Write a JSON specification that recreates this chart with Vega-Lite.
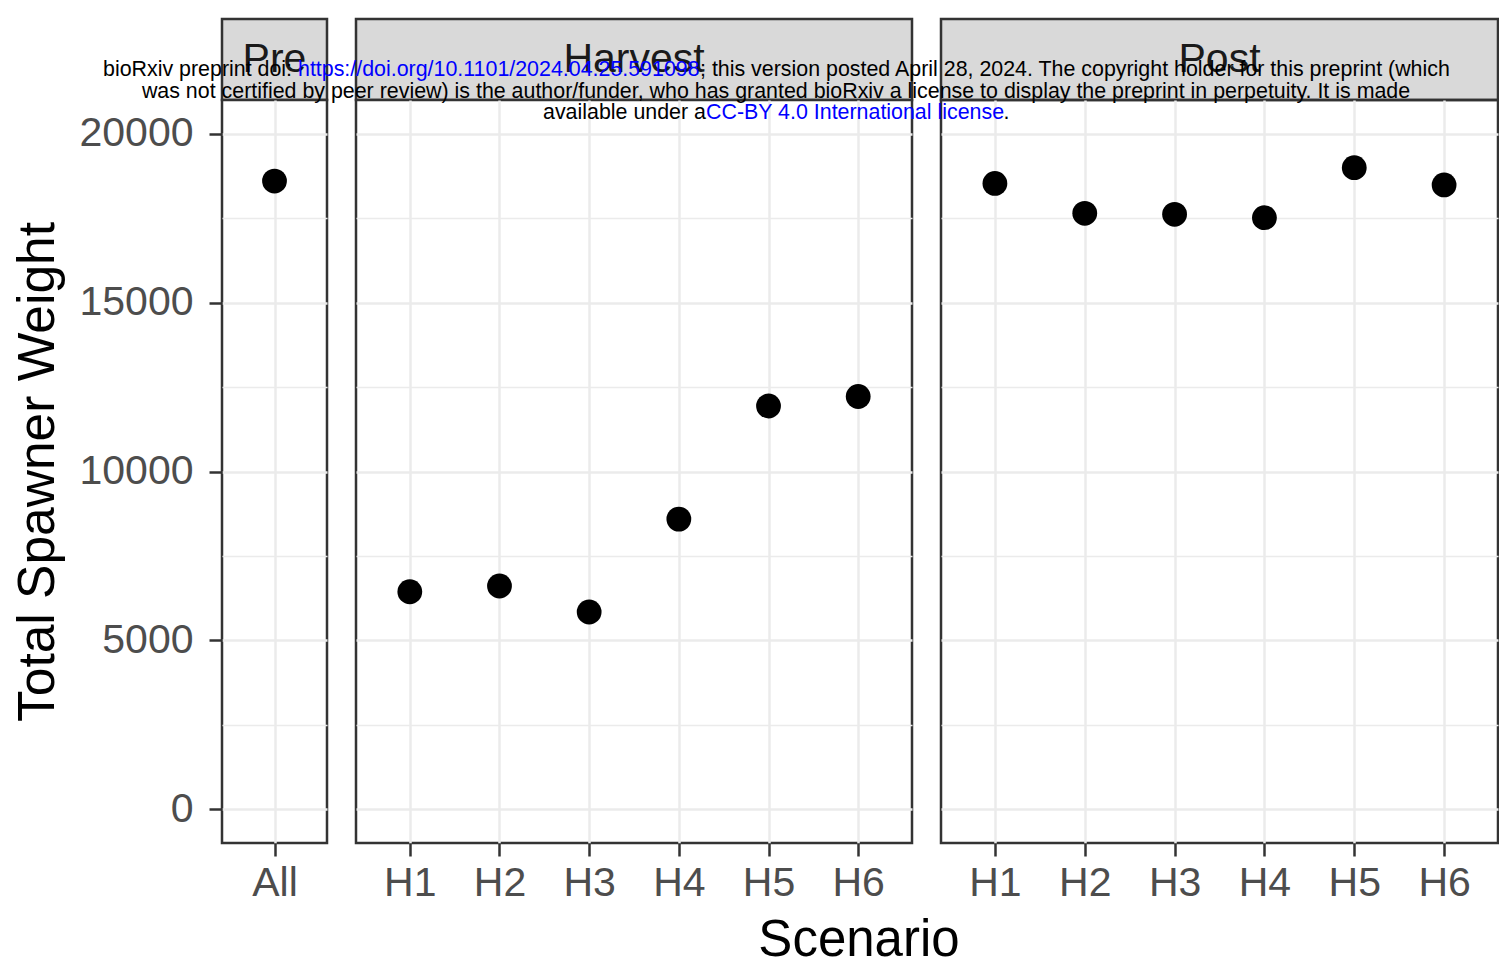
{
  "$schema": "https://vega.github.io/schema/vega-lite/v6.json",
  "background": "white",
  "padding": {"left": 11, "top": 17, "right": 1, "bottom": 5},
  "datasets": {
    "points": [
      {"panel": "Pre", "scenario": "All", "weight": 18600},
      {"panel": "Harvest", "scenario": "H1", "weight": 6440},
      {"panel": "Harvest", "scenario": "H2", "weight": 6610},
      {"panel": "Harvest", "scenario": "H3", "weight": 5840},
      {"panel": "Harvest", "scenario": "H4", "weight": 8590},
      {"panel": "Harvest", "scenario": "H5", "weight": 11940},
      {"panel": "Harvest", "scenario": "H6", "weight": 12220},
      {"panel": "Post", "scenario": "H1", "weight": 18530},
      {"panel": "Post", "scenario": "H2", "weight": 17645},
      {"panel": "Post", "scenario": "H3", "weight": 17615},
      {"panel": "Post", "scenario": "H4", "weight": 17515},
      {"panel": "Post", "scenario": "H5", "weight": 18995},
      {"panel": "Post", "scenario": "H6", "weight": 18485}
    ],
    "panels": [
      {"panel": "Pre"},
      {"panel": "Harvest"},
      {"panel": "Post"}
    ]
  },
  "title": {
    "text": "Scenario",
    "orient": "bottom",
    "anchor": "middle",
    "frame": "group",
    "dx": 637,
    "fontSize": 51,
    "fontWeight": "normal",
    "color": "black",
    "offset": 12
  },
  "columns": 3,
  "concat": [
    {
      "width": 105,
      "height": 81,
      "view": {"fill": "#d9d9d9", "stroke": "#333333", "strokeWidth": 2.5},
      "data": {"name": "panels"},
      "transform": [{"filter": "datum.panel === 'Pre'"}],
      "mark": {"type": "text", "fontSize": 41, "color": "#1a1a1a", "baseline": "middle", "align": "center"},
      "encoding": {"text": {"field": "panel", "type": "nominal"}}
    },
    {
      "width": 556,
      "height": 81,
      "view": {"fill": "#d9d9d9", "stroke": "#333333", "strokeWidth": 2.5},
      "data": {"name": "panels"},
      "transform": [{"filter": "datum.panel === 'Harvest'"}],
      "mark": {"type": "text", "fontSize": 41, "color": "#1a1a1a", "baseline": "middle", "align": "center"},
      "encoding": {"text": {"field": "panel", "type": "nominal"}}
    },
    {
      "width": 557,
      "height": 81,
      "view": {"fill": "#d9d9d9", "stroke": "#333333", "strokeWidth": 2.5},
      "data": {"name": "panels"},
      "transform": [{"filter": "datum.panel === 'Post'"}],
      "mark": {"type": "text", "fontSize": 41, "color": "#1a1a1a", "baseline": "middle", "align": "center"},
      "encoding": {"text": {"field": "panel", "type": "nominal"}}
    },
    {
      "width": 105,
      "height": 743,
      "data": {"name": "points"},
      "transform": [{"filter": "datum.panel === 'Pre'"}],
      "mark": {"type": "circle", "size": 615, "color": "black", "opacity": 1},
      "encoding": {
        "x": {
          "field": "scenario", "type": "nominal", "sort": null,
          "scale": {"type": "point", "padding": 0.6},
          "axis": {"title": null}
        },
        "y": {
          "field": "weight", "type": "quantitative",
          "scale": {"domain": [-1000, 21000], "nice": false, "zero": false},
          "axis": {
            "title": "Total Spawner Weight",
            "titleFontSize": 51.5,
            "titleFontWeight": "normal",
            "titleColor": "black",
            "titlePadding": 14,
            "values": [0, 2500, 5000, 7500, 10000, 12500, 15000, 17500, 20000],
            "format": "d",
            "labelExpr": "datum.value % 5000 === 0 ? datum.label : ''",
            "labelFontSize": 41,
            "labelColor": "#4d4d4d",
            "labelPadding": 16,
            "ticks": true,
            "tickSize": 13,
            "tickWidth": 2.5,
            "tickColor": "#333333",
            "tickOpacity": {"condition": {"test": "datum.value % 5000 !== 0", "value": 0}, "value": 1},
            "gridWidth": {"condition": {"test": "datum.value % 5000 === 0", "value": 2.5}, "value": 1.5}
          }
        }
      }
    },
    {
      "width": 556,
      "height": 743,
      "data": {"name": "points"},
      "transform": [{"filter": "datum.panel === 'Harvest'"}],
      "mark": {"type": "circle", "size": 615, "color": "black", "opacity": 1},
      "encoding": {
        "x": {
          "field": "scenario", "type": "nominal", "sort": null,
          "scale": {"type": "point", "padding": 0.6},
          "axis": {"title": null}
        },
        "y": {
          "field": "weight", "type": "quantitative",
          "scale": {"domain": [-1000, 21000], "nice": false, "zero": false},
          "axis": {
            "title": null,
            "labels": false,
            "ticks": false,
            "values": [0, 2500, 5000, 7500, 10000, 12500, 15000, 17500, 20000],
            "gridWidth": {"condition": {"test": "datum.value % 5000 === 0", "value": 2.5}, "value": 1.5}
          }
        }
      }
    },
    {
      "width": 557,
      "height": 743,
      "layer": [
        {
          "data": {"name": "points"},
          "transform": [{"filter": "datum.panel === 'Post'"}],
          "mark": {"type": "circle", "size": 615, "color": "black", "opacity": 1},
          "encoding": {
            "x": {
              "field": "scenario", "type": "nominal", "sort": null,
              "scale": {"type": "point", "padding": 0.6},
              "axis": {"title": null}
            },
            "y": {
              "field": "weight", "type": "quantitative",
              "scale": {"domain": [-1000, 21000], "nice": false, "zero": false},
              "axis": {
                "title": null,
                "labels": false,
                "ticks": false,
                "values": [0, 2500, 5000, 7500, 10000, 12500, 15000, 17500, 20000],
                "gridWidth": {"condition": {"test": "datum.value % 5000 === 0", "value": 2.5}, "value": 1.5}
              }
            }
          }
        },
        {
          "data": {"values": [{}]},
          "mark": {"type": "text", "text": "bioRxiv preprint doi: ", "x": -838, "y": -24, "align": "left", "baseline": "alphabetic", "fontSize": 21.4, "color": "black"}
        },
        {
          "data": {"values": [{}]},
          "mark": {"type": "text", "text": "https://doi.org/10.1101/2024.04.25.591098", "x": -643, "y": -24, "align": "left", "baseline": "alphabetic", "fontSize": 21.4, "color": "#0000ff"}
        },
        {
          "data": {"values": [{}]},
          "mark": {"type": "text", "text": "; this version posted April 28, 2024. The copyright holder for this preprint (which", "x": -241, "y": -24, "align": "left", "baseline": "alphabetic", "fontSize": 21.4, "color": "black"}
        },
        {
          "data": {"values": [{}]},
          "mark": {"type": "text", "text": "was not certified by peer review) is the author/funder, who has granted bioRxiv a license to display the preprint in perpetuity. It is made", "x": -165, "y": -2.5, "align": "center", "baseline": "alphabetic", "fontSize": 21.4, "color": "black"}
        },
        {
          "data": {"values": [{}]},
          "mark": {"type": "text", "text": "available under a", "x": -398, "y": 19, "align": "left", "baseline": "alphabetic", "fontSize": 21.4, "color": "black"}
        },
        {
          "data": {"values": [{}]},
          "mark": {"type": "text", "text": "CC-BY 4.0 International license", "x": -235, "y": 19, "align": "left", "baseline": "alphabetic", "fontSize": 21.4, "color": "#0000ff"}
        },
        {
          "data": {"values": [{}]},
          "mark": {"type": "text", "text": ".", "x": 62.5, "y": 19, "align": "left", "baseline": "alphabetic", "fontSize": 21.4, "color": "black"}
        }
      ]
    }
  ],
  "spacing": {"row": 0, "column": 29},
  "bounds": "flush",
  "align": "each",
  "resolve": {"scale": {"x": "independent", "y": "independent"}},
  "config": {
    "font": "Liberation Sans",
    "view": {"stroke": "#333333", "strokeWidth": 2.5, "fill": "white"},
    "axis": {
      "domain": false,
      "grid": true,
      "gridColor": "#ebebeb",
      "labelFont": "Liberation Sans",
      "titleFont": "Liberation Sans"
    },
    "axisX": {
      "labelFontSize": 41,
      "labelColor": "#4d4d4d",
      "labelPadding": 7,
      "labelAngle": 0,
      "tickSize": 13,
      "tickWidth": 2.5,
      "tickColor": "#333333",
      "gridWidth": 2.5
    },
    "title": {"font": "Liberation Sans"},
    "text": {"font": "Liberation Sans"}
  }
}
